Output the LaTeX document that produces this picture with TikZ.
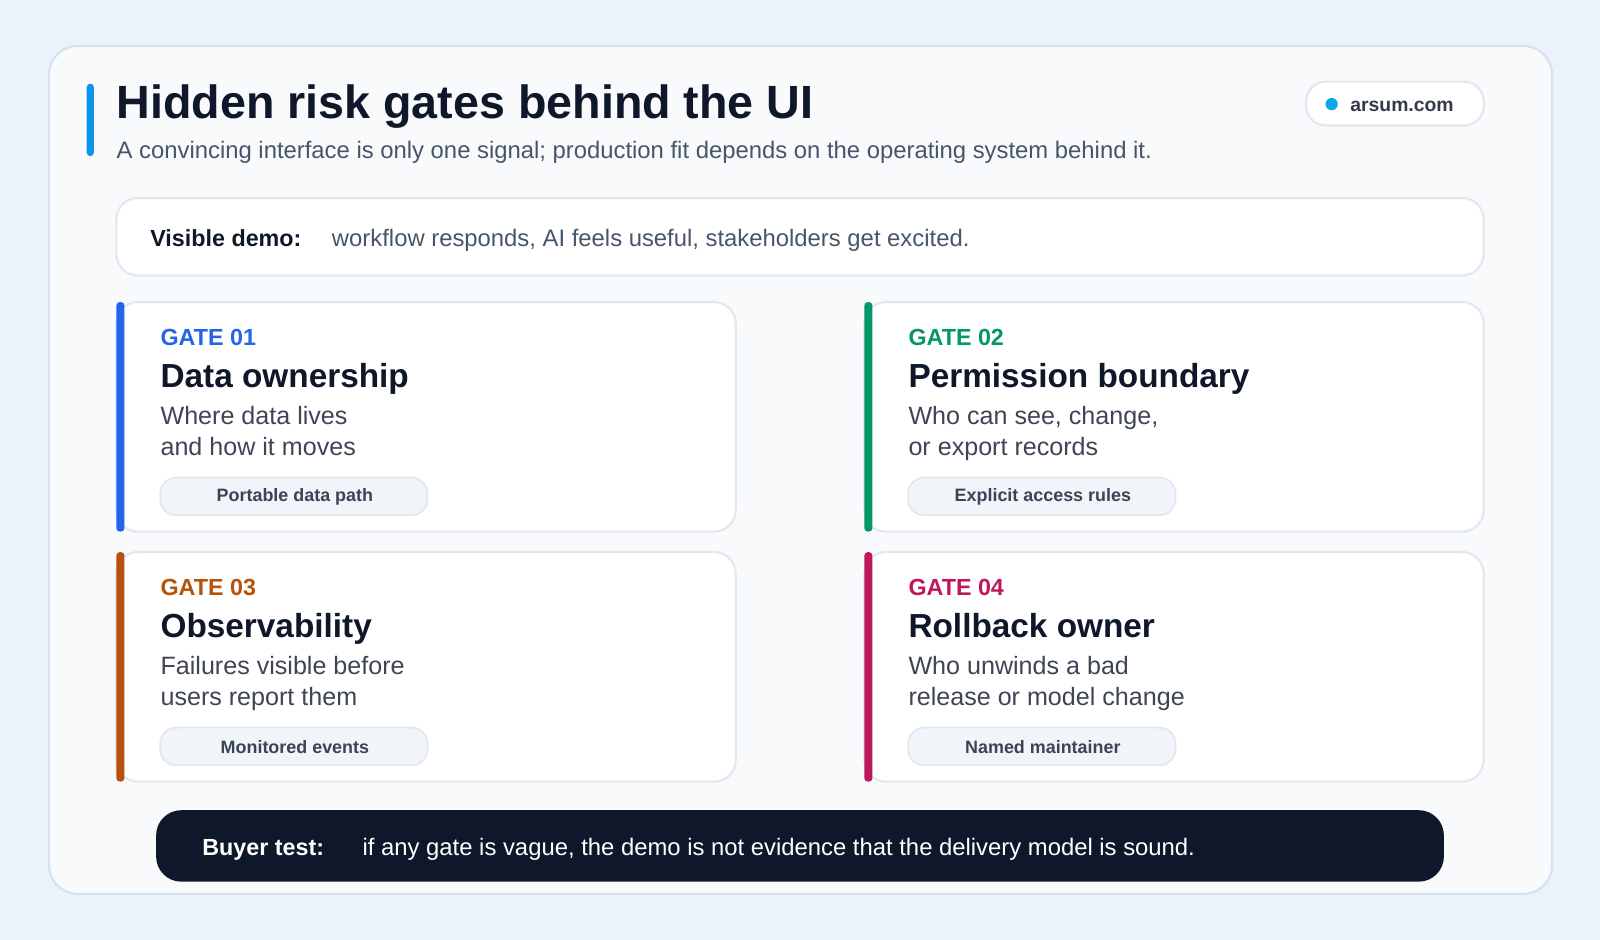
\documentclass[tikz,border=0pt]{standalone}
\usepackage{fontspec}
\setmainfont{Liberation Sans}
\definecolor{pagebg}{HTML}{EAF3FB}
\definecolor{panelbg}{HTML}{F8FAFC}
\definecolor{panelline}{HTML}{D6E2EE}
\definecolor{ink}{HTML}{0F172A}
\definecolor{muted}{HTML}{475569}
\definecolor{sky}{HTML}{0EA5E9}
\definecolor{gateblue}{HTML}{2563EB}
\definecolor{gategreen}{HTML}{059669}
\definecolor{gateorange}{HTML}{B45309}
\definecolor{gatepink}{HTML}{BE185D}
\definecolor{pillbg}{HTML}{F1F5F9}
\definecolor{pillline}{HTML}{E2E8F0}
\tikzset{
  card/.style={fill=white, draw=pillline, line width=1.2pt, rounded corners=12pt},
  gatelabel/.style={anchor=base west, inner sep=0pt, font=\fontsize{13}{15}\selectfont\bfseries},
  gatetitle/.style={anchor=base west, inner sep=0pt, text=ink, font=\fontsize{18.6}{21}\selectfont\bfseries},
  gatebody/.style={anchor=base west, inner sep=0pt, text=ink!80, font=\fontsize{14}{17}\selectfont},
  pilltext/.style={text=muted!80!black, font=\fontsize{10}{11}\selectfont\bfseries}
}
\newcommand{\gatecard}[8]{%
  \draw[card] (#1,#2) rectangle ++(607,225);
  \fill[#3, rounded corners=2pt] (#1,#2) rectangle ++(8,225);
  \node[gatelabel, text=#3] (#8label) at (#1+43,#2+43) {#4};
  \node[gatetitle] (#8title) at (#1+43,#2+84) {#5};
  \node[gatebody] (#8bodya) at (#1+43,#2+120) {#6};
  \node[gatebody] (#8bodyb) at (#1+43,#2+150) {#7};
  \draw[fill=pillbg, draw=pillline, line width=1pt, rounded corners=9pt] (#1+43,#2+172) rectangle ++(262,37);
}
\begin{document}
\begin{tikzpicture}[x=0.02cm, y=-0.02cm]
	\fill[pagebg] (0,0) rectangle (1568,921);
	\useasboundingbox (0,0) rectangle (1568,921);
	\draw[fill=panelbg, draw=panelline, line width=1.2pt, rounded corners=16pt] (48,45) rectangle (1521,876);
	
	% header
	\fill[sky!90!blue, rounded corners=2pt] (85,82) rectangle (92,153);
	\node[anchor=base west, inner sep=0pt, text=ink, font=\fontsize{26}{29}\selectfont\bfseries] (title) at (114,116) {Hidden risk gates behind the UI};
	\node[anchor=base west, inner sep=0pt, text=muted, font=\fontsize{13.3}{15}\selectfont] (subtitle) at (114,155) {A convincing interface is only one signal; production fit depends on the operating system behind it.};
	\draw[fill=white, draw=pillline, line width=1.2pt, rounded corners=11pt] (1280,80) rectangle (1454,123);
	\fill[sky] (1305,102) circle (6);
	\node[anchor=base west, inner sep=0pt, text=ink!85, font=\fontsize{10.8}{12}\selectfont\bfseries] (site) at (1323,109) {arsum.com};
	
	% visible demo
	\draw[fill=white, draw=pillline, line width=1.2pt, rounded corners=12pt] (114,194) rectangle (1454,270);
	\node[anchor=base west, inner sep=0pt, text=ink, font=\fontsize{13}{15}\selectfont\bfseries] (demohead) at (147,242) {Visible demo:};
	\node[anchor=base west, inner sep=0pt, text=muted, font=\fontsize{13.3}{15}\selectfont] (demotext) at (325,242) {workflow responds, AI feels useful, stakeholders get excited.};
	
	% gates
	\gatecard{114}{296}{gateblue}{GATE 01}{Data ownership}{Where data lives}{and how it moves}{one}
	\node[pilltext] (onepill) at (289,487) {Portable data path};
	\gatecard{847}{296}{gategreen}{GATE 02}{Permission boundary}{Who can see, change,}{or export records}{two}
	\node[pilltext] (twopill) at (1022,487) {Explicit access rules};
	\gatecard{114}{541}{gateorange}{GATE 03}{Observability}{Failures visible before}{users report them}{three}
	\node[pilltext] (threepill) at (289,732) {Monitored events};
	\gatecard{847}{541}{gatepink}{GATE 04}{Rollback owner}{Who unwinds a bad}{release or model change}{four}
	\node[pilltext] (fourpill) at (1022,732) {Named maintainer};
	
	% buyer test
	\fill[ink, rounded corners=14pt] (153,794) rectangle (1415,864);
	\node[anchor=base west, inner sep=0pt, text=white, font=\fontsize{13}{15}\selectfont\bfseries] (buyerhead) at (198,838) {Buyer test:};
	\node[anchor=base west, inner sep=0pt, text=white, font=\fontsize{13.3}{15}\selectfont] (buyertext) at (355,838) {if any gate is vague, the demo is not evidence that the delivery model is sound.};
\end{tikzpicture}
\end{document}
